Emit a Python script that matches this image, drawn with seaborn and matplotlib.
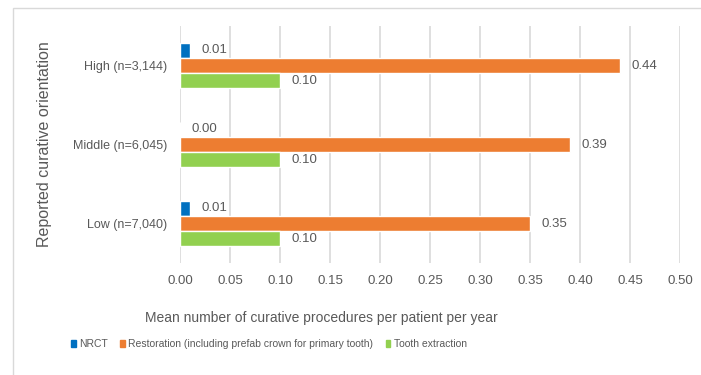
import pandas as pd
import numpy as np
import matplotlib.pyplot as plt
import seaborn as sns
from matplotlib.patches import Rectangle

# Chart data
groups = ['High (n=3,144)', 'Middle (n=6,045)', 'Low (n=7,040)']
procedures = ['NRCT', 'Restoration (including prefab crown for primary tooth)', 'Tooth extraction']
nrct = [0.01, 0.00, 0.01]
restoration = [0.44, 0.39, 0.35]
extraction = [0.10, 0.10, 0.10]
x_ticks = [0.00, 0.05, 0.10, 0.15, 0.20, 0.25, 0.30, 0.35, 0.40, 0.45, 0.50]

colors = ['#0070C0', '#ED7D31', '#92D050']
text_color = '#595959'

# Long format table for seaborn
data = pd.DataFrame({
    'group': groups * 3,
    'procedure': [procedures[0]] * 3 + [procedures[1]] * 3 + [procedures[2]] * 3,
    'value': nrct + restoration + extraction,
})

sns.set_style('white')
plt.rcParams['font.family'] = ['Liberation Sans', 'DejaVu Sans']

fig = plt.figure(figsize=(7.01, 3.75), dpi=100)
ax = fig.add_axes([180 / 701, 1 - 263 / 375, 500 / 701, 237 / 375])

sns.barplot(data=data, y='group', x='value', hue='procedure', order=groups,
            hue_order=procedures, palette=colors, orient='h', width=0.57,
            saturation=1, ax=ax, legend=False)

# Value labels
for container in ax.containers:
    ax.bar_label(container, fmt='%.2f', padding=8, color=text_color, fontsize=9.5)

ax.set_xlim(0, 0.5)
ax.set_xticks(x_ticks)
ax.set_xticklabels([f'{t:.2f}' for t in x_ticks])
ax.xaxis.grid(True, color='#D9D9D9', linewidth=1.2)
ax.set_axisbelow(True)
for s in ax.spines.values():
    s.set_visible(False)
ax.tick_params(axis='both', length=0, colors=text_color, labelsize=9.5)
ax.tick_params(axis='y', labelsize=9, pad=9)
ax.tick_params(axis='x', pad=9)

ax.set_ylabel('Reported curative orientation', fontsize=11.5, color=text_color)
ax.yaxis.set_label_coords((45 - 180) / 500, 0.5)
ax.set_xlabel('Mean number of curative procedures per patient per year',
              fontsize=10, color=text_color)
ax.xaxis.set_label_coords((321 - 180) / 500, -(318 - 263) / 237)
ax.xaxis.label.set_va('center')
ax.yaxis.label.set_va('center')

# Legend
handles = [Rectangle((0, 0), 1, 1, color=c) for c in colors]
fig.legend(handles, procedures, loc='center', bbox_to_anchor=(269 / 701, 1 - 344 / 375),
           ncol=3, frameon=False, handlelength=0.45, handleheight=0.7, handletextpad=0.3,
           columnspacing=1.2, labelcolor=text_color, fontsize=7.5)

# Outer chart frame
fig.patches.append(Rectangle((13 / 701, -0.1), 1.2, 1 - 8 / 375 + 0.1,
                             transform=fig.transFigure, fill=False,
                             edgecolor='#D9D9D9', linewidth=1, zorder=0))

fig.savefig('out.png', dpi=100)
